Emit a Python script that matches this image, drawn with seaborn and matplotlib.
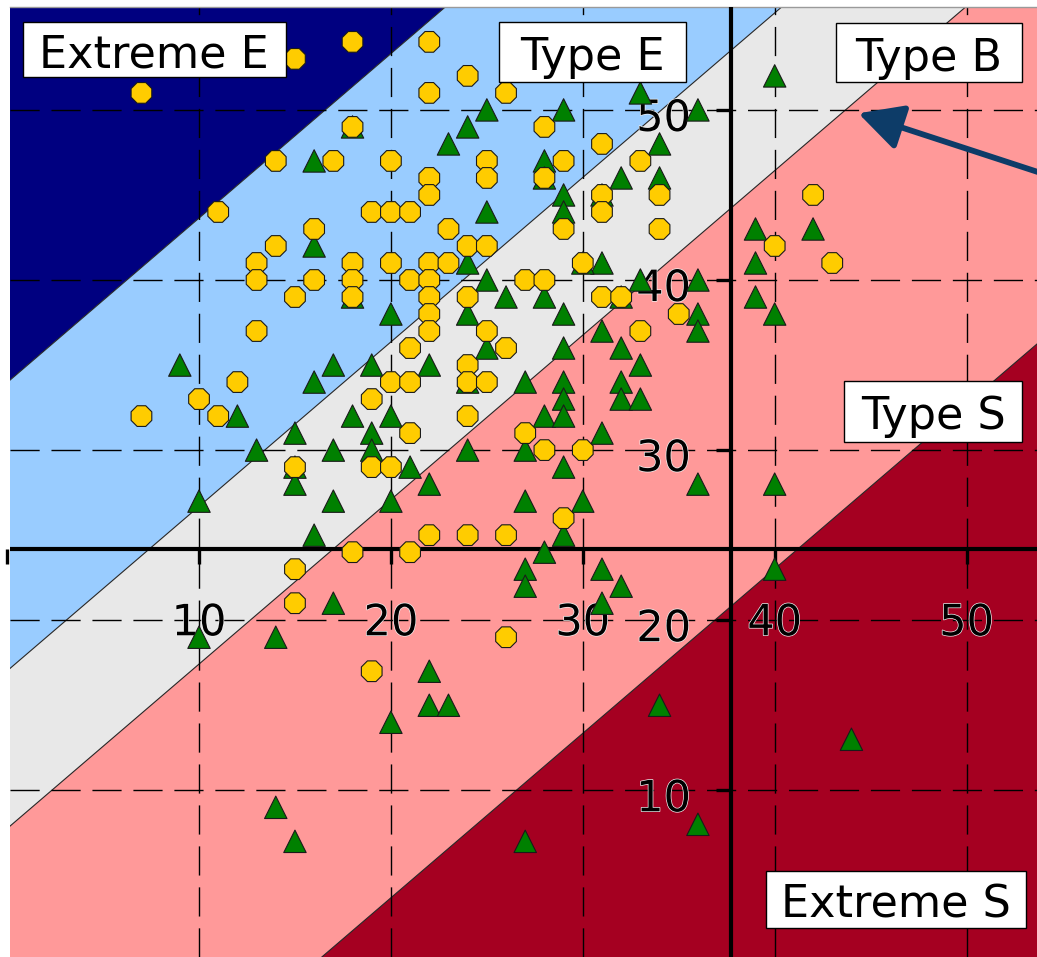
import numpy as np
import pandas as pd
import matplotlib
matplotlib.use("Agg")
import matplotlib.pyplot as plt
import matplotlib.patheffects as pe
from matplotlib import transforms
from matplotlib.patches import Rectangle
import seaborn as sns

# ---------------------------------------------------------------- data
yellow_x = [18, 15, 7, 14, 17, 11, 16, 14, 13, 13, 16, 15, 18, 22, 24, 22, 26, 28, 31, 20,
            25, 29, 33, 22, 25, 28, 22, 31, 34, 19, 20, 21, 31, 23, 29, 34, 24, 25, 18, 20,
            22, 23, 30, 18, 21, 22, 27, 28, 18, 22, 24, 31, 32, 22, 35, 42, 40, 43, 13, 12,
            10, 7, 11, 15, 15, 18, 15, 22, 25, 33, 21, 26, 24, 20, 21, 24, 25, 19, 24, 21,
            27, 28, 30, 19, 20, 29, 22, 24, 26, 21, 26, 19]
yellow_y = [54, 53, 51, 47, 47, 44, 43, 42, 41, 40, 40, 39, 49, 54, 52, 51, 51, 49, 48, 47,
            47, 47, 47, 46, 46, 46, 45, 45, 45, 44, 44, 44, 44, 43, 43, 43, 42, 42, 41, 41,
            41, 41, 41, 40, 40, 40, 40, 40, 39, 39, 39, 39, 39, 38, 38, 45, 42, 41, 37, 34,
            33, 32, 32, 29, 23, 24, 21, 37, 37, 37, 36, 36, 35, 34, 34, 34, 34, 33, 32, 31,
            31, 30, 30, 29, 29, 26, 25, 25, 25, 24, 19, 17]

green_x = [16, 16, 18, 33, 25, 29, 24, 23, 34, 28, 28, 32, 34, 29, 29, 31, 25, 24, 31, 30,
           25, 26, 28, 33, 18, 20, 24, 29, 32, 40, 36, 39, 42, 39, 36, 39, 40, 36, 36, 36,
           40, 40, 9, 12, 17, 16, 15, 13, 17, 15, 15, 17, 10, 16, 17, 10, 14, 14, 15, 31,
           25, 29, 32, 19, 22, 33, 24, 27, 29, 32, 32, 33, 29, 18, 20, 28, 29, 19, 31, 19,
           24, 27, 21, 29, 22, 20, 27, 30, 29, 28, 27, 31, 32, 27, 31, 22, 22, 23, 20, 34,
           27, 44, 36]
green_y = [47, 42, 49, 51, 50, 50, 49, 48, 48, 47, 46, 46, 46, 45, 44, 45, 44, 41, 41, 41,
           40, 39, 39, 40, 39, 38, 38, 38, 39, 52, 50, 43, 43, 41, 40, 39, 38, 38, 37, 28,
           28, 23, 35, 32, 35, 34, 31, 30, 30, 29, 28, 27, 27, 25, 21, 19, 19, 9, 7, 37,
           36, 36, 36, 35, 35, 35, 34, 34, 34, 34, 33, 33, 33, 32, 32, 32, 32, 31, 31, 30,
           30, 30, 29, 29, 28, 27, 27, 27, 25, 24, 23, 23, 22, 22, 21, 17, 15, 15, 14, 15,
           7, 13, 8]

# band boundaries: y = slope * x + offset (top to bottom)
boundary_slope = 0.967
boundary_offsets = [33.97, 17.02, 7.75, -15.66]
band_names = ["Extreme E", "Type E", "Type B", "Type S", "Extreme S"]
band_colors = ["#000080", "#99ccff", "#e8e8e8", "#ff9999", "#a50021"]

axis_cross = (37.72, 24.17)
tick_values = [10, 20, 30, 40, 50]

# ------------------------------------------------------------- layout
label_boxes = {                 # centre x, centre y, width, height (data units)
    "Extreme E": (7.67, 53.55, 13.72, 3.23),
    "Type E": (30.51, 53.40, 9.71, 3.56),
    "Type B": (48.04, 53.36, 9.72, 3.47),
    "Type S": (48.26, 32.28, 9.28, 3.57),
    "Extreme S": (46.33, 3.60, 13.53, 3.35),
}
arrow_tip = (44.36, 49.80)
arrow_tail = (55.91, 45.54)
xlim = (0.15, 53.67)
ylim = (0.2, 56.05)

W, H = 1037, 957
fig = plt.figure(figsize=(W / 100, H / 100), dpi=100)
ax = fig.add_axes([10 / W, 0, 1 - 10 / W, (H - 7) / H])

# diagonal bands
xs = np.array([-20.0, 80.0])
lines = [boundary_slope * xs + c for c in boundary_offsets]
edges = [np.full_like(xs, 200.0)] + lines + [np.full_like(xs, -200.0)]
for i, color in enumerate(band_colors):
    ax.fill_between(xs, edges[i + 1], edges[i], color=color, lw=0, zorder=0)
for ln in lines:
    ax.plot(xs, ln, color="#262626", lw=0.8, zorder=1)

# dashed grid
for v in tick_values:
    ax.axvline(v, color="black", lw=1.0, dashes=(21, 8.5), zorder=2)
    ax.axhline(v, color="black", lw=1.0, dashes=(21, 8.5), zorder=2)

# axes crossing at the marked origin
ax.axvline(axis_cross[0], color="black", lw=3.0, zorder=3)
ax.axhline(axis_cross[1], color="black", lw=3.0, zorder=3)
ax.plot([0] + tick_values, [axis_cross[1]] * (len(tick_values) + 1), ls="none",
        marker=3, ms=11, mew=2.4, color="black", zorder=3, clip_on=False)
ax.plot([axis_cross[0]] * len(tick_values), tick_values, ls="none",
        marker=0, ms=11, mew=2.4, color="black", zorder=3)

halo = [pe.withStroke(linewidth=1.0, foreground="#f4f4f4")]
xlab_tr = transforms.offset_copy(ax.transData, fig=fig, x=0, y=-86, units="dots")
ylab_tr = transforms.offset_copy(ax.transData, fig=fig, x=-40, y=-21, units="dots")
for v in tick_values:
    ax.text(v, axis_cross[1], str(v), transform=xlab_tr, ha="center", va="baseline",
            fontsize=31, color="black", path_effects=halo, zorder=4)
    ax.text(axis_cross[0], v, str(v), transform=ylab_tr, ha="right", va="baseline",
            fontsize=31, color="black", path_effects=halo, zorder=4)

# scatter of the two samples
df = pd.DataFrame({
    "x": green_x + yellow_x,
    "y": green_y + yellow_y,
    "group": ["green"] * len(green_x) + ["yellow"] * len(yellow_x),
})
sns.scatterplot(data=df, x="x", y="y", hue="group", style="group",
                palette={"green": "#008000", "yellow": "#ffcc00"},
                markers={"green": "^", "yellow": "8"},
                s=260, edgecolor="#1a1a1a", linewidth=0.8, legend=False,
                ax=ax, zorder=5)

# region labels
text_tr = transforms.offset_copy(ax.transData, fig=fig, x=0, y=-18, units="dots")
for name in band_names:
    cx, cy, w, h = label_boxes[name]
    ax.add_patch(Rectangle((cx - w / 2, cy - h / 2), w, h, facecolor="white",
                           edgecolor="black", lw=1.0, zorder=6))
    ax.text(cx, cy, name, transform=text_tr, ha="center", va="baseline",
            fontsize=32, color="black", zorder=7)

ax.annotate("", xy=arrow_tip, xytext=arrow_tail,
            arrowprops=dict(arrowstyle="-|>,head_length=1.35,head_width=0.7",
                            mutation_scale=20, lw=4.2, color="#0d3c68",
                            shrinkA=0, shrinkB=0),
            zorder=8, annotation_clip=False)

ax.set_xlim(*xlim)
ax.set_ylim(*ylim)
ax.set_xlabel("")
ax.set_ylabel("")
ax.set_xticks([])
ax.set_yticks([])
for side in ["left", "right", "bottom"]:
    ax.spines[side].set_visible(False)
ax.spines["top"].set_color("#9a9a9a")
ax.spines["top"].set_linewidth(1.0)

fig.savefig("out.png", dpi=100, facecolor="white")
